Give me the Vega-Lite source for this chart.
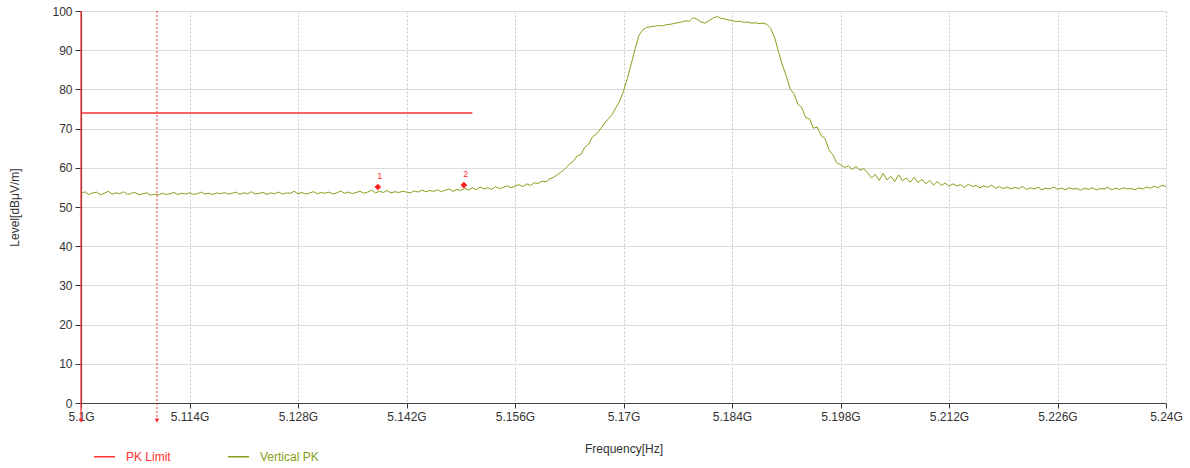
{
  "$schema": "https://vega.github.io/schema/vega-lite/v6.json",
  "width": 1085,
  "height": 392,
  "autosize": {"type": "none"},
  "padding": {"left": 81, "top": 11, "right": 24, "bottom": 65},
  "background": "white",
  "config": {
    "view": {"stroke": null},
    "font": "Liberation Sans",
    "axis": {"labelFont": "Liberation Sans", "titleFont": "Liberation Sans", "labelFontSize": 12, "titleFontSize": 12, "titleFontWeight": "normal", "labelColor": "#333333", "titleColor": "#333333", "domainColor": "#444444", "tickColor": "#333333"}
  },
  "datasets": {
    "trace": [
{"f":5100,"v":53.4},{"f":5100.5,"v":53.9},{"f":5101,"v":53.2},{"f":5101.5,"v":53.6},{"f":5102,"v":53.8},{"f":5102.5,"v":53.1},{"f":5103,"v":53.5},{"f":5103.5,"v":54.0},{"f":5104,"v":53.3},{"f":5104.5,"v":53.6},
{"f":5105,"v":53.4},{"f":5105.5,"v":53.9},{"f":5106,"v":53.2},{"f":5106.5,"v":53.5},{"f":5107,"v":53.7},{"f":5107.5,"v":53.1},{"f":5108,"v":53.4},{"f":5108.5,"v":53.6},{"f":5109,"v":53.0},{"f":5109.5,"v":53.3},
{"f":5110,"v":53.1},{"f":5110.5,"v":53.5},{"f":5111,"v":53.2},{"f":5111.5,"v":53.4},{"f":5112,"v":53.7},{"f":5112.5,"v":53.2},{"f":5113,"v":53.5},{"f":5113.5,"v":53.3},{"f":5114,"v":53.6},{"f":5114.5,"v":53.2},
{"f":5115,"v":53.4},{"f":5115.5,"v":53.8},{"f":5116,"v":53.3},{"f":5116.5,"v":53.5},{"f":5117,"v":53.2},{"f":5117.5,"v":53.6},{"f":5118,"v":53.4},{"f":5118.5,"v":53.7},{"f":5119,"v":53.3},{"f":5119.5,"v":53.5},
{"f":5120,"v":53.8},{"f":5120.5,"v":53.2},{"f":5121,"v":53.6},{"f":5121.5,"v":53.4},{"f":5122,"v":53.9},{"f":5122.5,"v":53.3},{"f":5123,"v":53.5},{"f":5123.5,"v":53.7},{"f":5124,"v":53.2},{"f":5124.5,"v":53.6},
{"f":5125,"v":53.4},{"f":5125.5,"v":53.8},{"f":5126,"v":53.3},{"f":5126.5,"v":53.6},{"f":5127,"v":53.5},{"f":5127.5,"v":54.0},{"f":5128,"v":53.4},{"f":5128.5,"v":53.7},{"f":5129,"v":53.3},{"f":5129.5,"v":53.6},
{"f":5130,"v":53.9},{"f":5130.5,"v":53.4},{"f":5131,"v":53.7},{"f":5131.5,"v":53.5},{"f":5132,"v":53.8},{"f":5132.5,"v":53.3},{"f":5133,"v":53.6},{"f":5133.5,"v":54.1},{"f":5134,"v":53.5},{"f":5134.5,"v":53.8},
{"f":5135,"v":53.4},{"f":5135.5,"v":53.7},{"f":5136,"v":54.0},{"f":5136.5,"v":53.5},{"f":5137,"v":53.8},{"f":5137.5,"v":54.3},{"f":5138,"v":53.6},{"f":5138.5,"v":54.0},{"f":5139,"v":53.7},{"f":5139.5,"v":54.2},
{"f":5140,"v":53.6},{"f":5140.5,"v":53.9},{"f":5141,"v":53.7},{"f":5141.5,"v":54.0},{"f":5142,"v":53.8},{"f":5142.5,"v":53.6},{"f":5143,"v":54.1},{"f":5143.5,"v":53.8},{"f":5144,"v":54.3},{"f":5144.5,"v":53.9},
{"f":5145,"v":54.2},{"f":5145.5,"v":54.0},{"f":5146,"v":54.4},{"f":5146.5,"v":53.9},{"f":5147,"v":54.3},{"f":5147.5,"v":54.6},{"f":5148,"v":54.0},{"f":5148.5,"v":54.5},{"f":5149,"v":54.2},{"f":5149.5,"v":54.8},
{"f":5150,"v":54.3},{"f":5150.5,"v":54.9},{"f":5151,"v":54.4},{"f":5151.5,"v":55.1},{"f":5152,"v":54.6},{"f":5152.5,"v":54.9},{"f":5153,"v":54.5},{"f":5153.5,"v":55.2},{"f":5154,"v":54.7},{"f":5154.5,"v":55.0},
{"f":5155,"v":55.4},{"f":5155.5,"v":54.9},{"f":5156,"v":55.3},{"f":5156.5,"v":55.7},{"f":5157,"v":55.2},{"f":5157.5,"v":55.9},{"f":5158,"v":55.5},{"f":5158.5,"v":56.2},{"f":5159,"v":56.0},{"f":5159.5,"v":56.6},
{"f":5160,"v":56.4},{"f":5160.5,"v":57.2},{"f":5161,"v":57.6},{"f":5161.5,"v":58.3},{"f":5162,"v":59.0},{"f":5162.5,"v":59.8},{"f":5163,"v":60.9},{"f":5163.5,"v":61.6},{"f":5164,"v":63.0},{"f":5164.5,"v":63.4},
{"f":5165,"v":65.2},{"f":5165.5,"v":66.0},{"f":5166,"v":67.9},{"f":5166.5,"v":68.6},{"f":5167,"v":69.8},{"f":5167.5,"v":71.2},{"f":5168,"v":72.4},{"f":5168.5,"v":73.5},{"f":5169,"v":75.3},{"f":5169.5,"v":77.0},
{"f":5170,"v":79.6},{"f":5170.5,"v":82.8},{"f":5171,"v":86.5},{"f":5171.5,"v":90.4},{"f":5172,"v":93.8},{"f":5172.5,"v":95.2},{"f":5173,"v":95.8},{"f":5173.5,"v":96.0},{"f":5174,"v":96.1},{"f":5174.5,"v":96.3},
{"f":5175,"v":96.2},{"f":5175.5,"v":96.5},{"f":5176,"v":96.6},{"f":5176.5,"v":96.8},{"f":5177,"v":97.0},{"f":5177.5,"v":97.2},{"f":5178,"v":97.5},{"f":5178.5,"v":97.4},{"f":5179,"v":98.3},{"f":5179.5,"v":97.9},
{"f":5180,"v":97.2},{"f":5180.5,"v":96.9},{"f":5181,"v":97.5},{"f":5181.5,"v":98.1},{"f":5182,"v":98.6},{"f":5182.5,"v":98.2},{"f":5183,"v":98.0},{"f":5183.5,"v":97.7},{"f":5184,"v":97.6},{"f":5184.5,"v":97.3},
{"f":5185,"v":97.4},{"f":5185.5,"v":97.1},{"f":5186,"v":97.2},{"f":5186.5,"v":96.9},{"f":5187,"v":97.0},{"f":5187.5,"v":96.8},{"f":5188,"v":96.9},{"f":5188.5,"v":96.6},{"f":5189,"v":95.5},{"f":5189.5,"v":93.2},
{"f":5190,"v":89.6},{"f":5190.5,"v":86.2},{"f":5191,"v":83.4},{"f":5191.5,"v":80.1},{"f":5192,"v":78.9},{"f":5192.5,"v":76.2},{"f":5193,"v":75.4},{"f":5193.5,"v":72.8},{"f":5194,"v":72.5},{"f":5194.5,"v":70.1},
{"f":5195,"v":70.4},{"f":5195.5,"v":68.2},{"f":5196,"v":67.5},{"f":5196.5,"v":64.6},{"f":5197,"v":63.4},{"f":5197.5,"v":61.3},{"f":5198,"v":60.8},{"f":5198.5,"v":60.1},{"f":5199,"v":60.5},{"f":5199.5,"v":59.6},
{"f":5200,"v":60.3},{"f":5200.5,"v":59.4},{"f":5201,"v":59.8},{"f":5201.5,"v":58.7},{"f":5202,"v":57.4},{"f":5202.5,"v":58.3},{"f":5203,"v":56.8},{"f":5203.5,"v":58.6},{"f":5204,"v":56.9},{"f":5204.5,"v":57.8},
{"f":5205,"v":56.5},{"f":5205.5,"v":58.2},{"f":5206,"v":56.7},{"f":5206.5,"v":57.4},{"f":5207,"v":56.3},{"f":5207.5,"v":57.6},{"f":5208,"v":56.2},{"f":5208.5,"v":57.1},{"f":5209,"v":55.9},{"f":5209.5,"v":56.8},
{"f":5210,"v":55.6},{"f":5210.5,"v":56.5},{"f":5211,"v":55.5},{"f":5211.5,"v":56.1},{"f":5212,"v":55.3},{"f":5212.5,"v":55.9},{"f":5213,"v":55.4},{"f":5213.5,"v":55.7},{"f":5214,"v":55.0},{"f":5214.5,"v":55.8},
{"f":5215,"v":55.2},{"f":5215.5,"v":55.5},{"f":5216,"v":54.9},{"f":5216.5,"v":55.4},{"f":5217,"v":55.0},{"f":5217.5,"v":55.6},{"f":5218,"v":54.8},{"f":5218.5,"v":55.2},{"f":5219,"v":54.7},{"f":5219.5,"v":55.1},
{"f":5220,"v":54.6},{"f":5220.5,"v":55.0},{"f":5221,"v":54.7},{"f":5221.5,"v":55.2},{"f":5222,"v":54.5},{"f":5222.5,"v":54.9},{"f":5223,"v":54.6},{"f":5223.5,"v":55.0},{"f":5224,"v":54.4},{"f":5224.5,"v":54.8},
{"f":5225,"v":54.6},{"f":5225.5,"v":55.1},{"f":5226,"v":54.5},{"f":5226.5,"v":54.8},{"f":5227,"v":54.4},{"f":5227.5,"v":54.9},{"f":5228,"v":54.6},{"f":5228.5,"v":54.7},{"f":5229,"v":54.3},{"f":5229.5,"v":54.8},
{"f":5230,"v":54.5},{"f":5230.5,"v":54.9},{"f":5231,"v":54.4},{"f":5231.5,"v":54.7},{"f":5232,"v":54.6},{"f":5232.5,"v":55.0},{"f":5233,"v":54.4},{"f":5233.5,"v":54.8},{"f":5234,"v":54.5},{"f":5234.5,"v":54.9},
{"f":5235,"v":54.6},{"f":5235.5,"v":54.7},{"f":5236,"v":54.4},{"f":5236.5,"v":54.9},{"f":5237,"v":54.6},{"f":5237.5,"v":55.1},{"f":5238,"v":54.8},{"f":5238.5,"v":55.3},{"f":5239,"v":54.9},{"f":5239.5,"v":55.6},
{"f":5240,"v":55.2}
    ]
  },
  "encoding": {
    "x": {"field": "f", "type": "quantitative", "scale": {"domain": [5100, 5240], "nice": false, "zero": false},
      "axis": {"values": [5100, 5114, 5128, 5142, 5156, 5170, 5184, 5198, 5212, 5226, 5240], "labelExpr": "format(datum.value / 1000, '.3~f') + 'G'", "title": "Frequency[Hz]", "titlePadding": 21, "tickSize": 5, "labelPadding": 3, "grid": true, "gridColor": "#c8c8c8", "gridDash": [2, 2], "gridWidth": 1, "labelFlush": false, "domainWidth": 1.2}},
    "y": {"field": "v", "type": "quantitative", "scale": {"domain": [0, 100], "nice": false, "zero": false},
      "axis": {"values": [0, 10, 20, 30, 40, 50, 60, 70, 80, 90, 100], "title": "Level[dBμV/m]", "titlePadding": 30, "tickSize": 6, "labelPadding": 3, "grid": true, "gridColor": "#dcdcdc", "gridWidth": 1, "domainWidth": 1.2}}
  },
  "layer": [
    {
      "data": {"values": [{"f": 5100, "v": 74, "s": "PK Limit"}, {"f": 5150.5, "v": 74, "s": "PK Limit"}]},
      "mark": {"type": "line", "strokeWidth": 1.5, "clip": false},
      "encoding": {
        "color": {"field": "s", "type": "nominal",
          "scale": {"domain": ["PK Limit", "Vertical PK"], "range": ["#ff3030", "#86a01a"]},
          "legend": {"title": null, "orient": "none", "legendX": 12, "legendY": 434, "direction": "horizontal", "symbolType": "stroke", "symbolSize": 441, "symbolStrokeWidth": 1.5, "labelFont": "Liberation Sans", "labelFontSize": 12, "columnPadding": 54, "labelOffset": 10,
            "encode": {"labels": {"update": {"fill": {"signal": "datum.value === 'PK Limit' ? '#ff3030' : '#86a01a'"}}}}}}
      }
    },
    {
      "data": {"name": "trace"},
      "transform": [{"calculate": "'Vertical PK'", "as": "s"}],
      "mark": {"type": "line", "strokeWidth": 1},
      "encoding": {
        "color": {"field": "s", "type": "nominal"}
      }
    },
    {
      "data": {"values": [{"f": 5100, "v": 100, "v2": -4.3}]},
      "mark": {"type": "rule", "color": "#ff3030", "strokeWidth": 1.2, "clip": false},
      "encoding": {
        "y2": {"field": "v2"}
      }
    },
    {
      "data": {"values": [{"f": 5109.8, "v": 100, "v2": -4.3}]},
      "mark": {"type": "rule", "color": "#ff3030", "strokeWidth": 1, "strokeDash": [2, 2], "clip": false},
      "encoding": {
        "y2": {"field": "v2"}
      }
    },
    {
      "data": {"values": [{"f": 5100, "v": -4.5}, {"f": 5109.8, "v": -4.5}]},
      "mark": {"type": "point", "shape": "triangle-down", "filled": true, "color": "#ff3030", "size": 22, "opacity": 1, "clip": false},
      "encoding": {}
    },
    {
      "data": {"values": [{"f": 5138.3, "v": 55.1, "m": "1"}, {"f": 5149.4, "v": 55.6, "m": "2"}]},
      "mark": {"type": "point", "shape": "diamond", "filled": true, "color": "#ff2020", "size": 45, "opacity": 1},
      "encoding": {}
    },
    {
      "data": {"values": [{"f": 5138.3, "v": 55.1, "m": "1"}, {"f": 5149.4, "v": 55.6, "m": "2"}]},
      "mark": {"type": "text", "color": "#ff3030", "fontSize": 9, "dy": -11, "dx": 2, "font": "Liberation Sans"},
      "encoding": {
        "text": {"field": "m"}
      }
    }
  ]
}
